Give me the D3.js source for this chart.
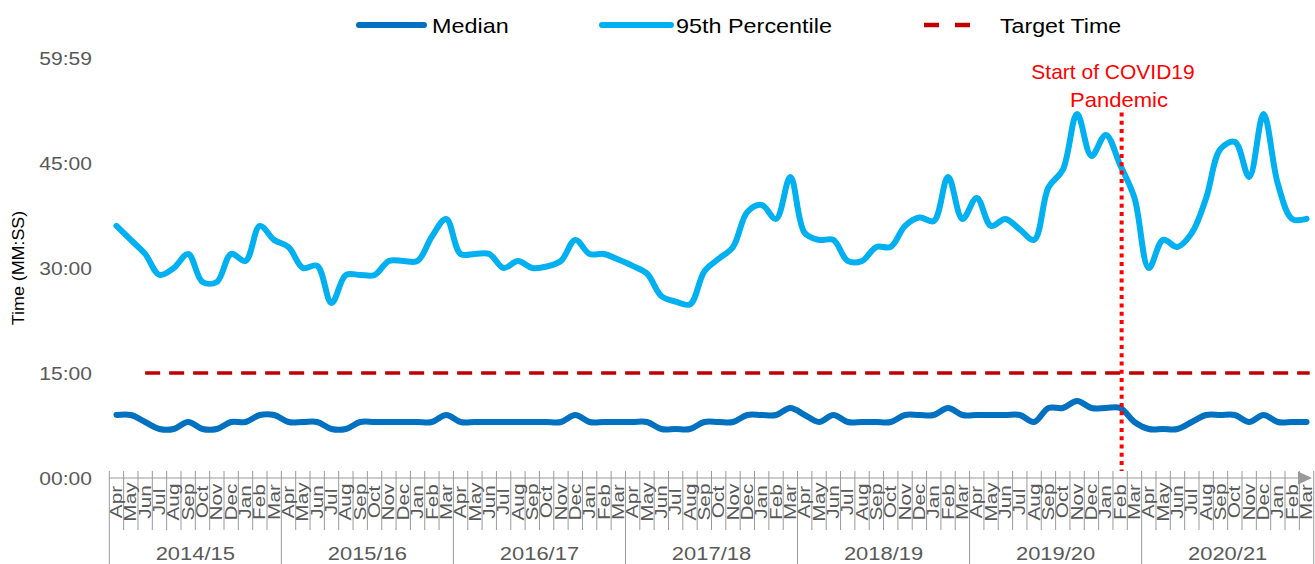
<!DOCTYPE html>
<html><head><meta charset="utf-8">
<script src="https://cdn.jsdelivr.net/npm/d3@7"></script>
<style>
html,body{margin:0;padding:0;background:#fff;}
svg{display:block;font-family:"Liberation Sans",Arial,sans-serif;}
</style></head>
<body><svg id="c" width="1315" height="564"></svg>
<script>
// ---- data ----
const months = ["Apr","May","Jun","Jul","Aug","Sep","Oct","Nov","Dec","Jan","Feb","Mar"];
const years = ["2014/15","2015/16","2016/17","2017/18","2018/19","2019/20","2020/21"];
// values in minutes
const median = [
  9,9,8,7,7,8,7,7,8,8,9,9,
  8,8,8,7,7,8,8,8,8,8,8,9,
  8,8,8,8,8,8,8,8,9,8,8,8,
  8,8,7,7,7,8,8,8,9,9,9,10,
  9,8,9,8,8,8,8,9,9,9,10,9,
  9,9,9,9,8,10,10,11,10,10,10,8,
  7,7,7,8,9,9,9,8,9,8,8,8
];
const p95 = [
  36,34,32,29,30,32,28,28,32,31,36,34,
  33,30,30.3,25,29,29,29,31,31,31,34.5,37,
  32,32,32,30,31,30,30.2,31,34,32,32,31.2,
  30.3,29.2,26,25.2,24.8,29.5,31.3,33,38,39,37,43,
  35,34,34,31,31,33,33,36,37.2,36.7,43,37,
  40,36,37,35.5,34,41.5,44,52,46,49,44.7,40,
  30,34,33,35,40,47,48,43,52,42,37,37
];
const targetMinutes = 15;
const yTicks = [0, 900, 1800, 2700, 3599]; // seconds
const covidMonth = "2019/20 Feb";
const covidLabel = ["Start of COVID19", "Pandemic"];
const seriesNames = ["Median", "95th Percentile", "Target Time"];

const categories = years.flatMap(y => months.map(m => y + " " + m));

// ---- chart ----
const svg = d3.select("#c");
const x = d3.scaleBand().domain(categories).range([109.3, 1313.7]);
const bw = x.bandwidth();
const cx = c => x(c) + bw / 2;
const y = d3.scaleLinear().domain([0, 3599]).range([478, 58]);

const txtCol = "#595959", axCol = "#9a9a9a";
const fmt = s => String(Math.floor(s / 60)).padStart(2, "0") + ":" + String(s % 60).padStart(2, "0");

function stext(g, str, tx, ty, size, sx, anchor, rot, color) {
  return g.append("text")
    .attr("transform", `translate(${tx},${ty})` + (rot ? ` rotate(${rot})` : "") + ` scale(${sx},1)`)
    .attr("text-anchor", anchor).attr("dominant-baseline", "central")
    .attr("font-size", size).attr("fill", color || txtCol).text(str);
}

// y axis labels
yTicks.forEach(t => stext(svg, fmt(t), 92, y(t) + 1, 18, 1.17, "end", 0));
stext(svg, "Time (MM:SS)", 18, 268, 17, 1.05, "middle", -90, "#000");

// x axis line + arrow
svg.append("line").attr("x1", 109.3).attr("x2", 1299).attr("y1", y(0)).attr("y2", y(0))
  .attr("stroke", axCol).attr("stroke-width", 1);
svg.append("path").attr("d", `M1298,${y(0) - 6.5}L1312,${y(0)}L1298,${y(0) + 6.5}Z`).attr("fill", axCol);

// ticks
d3.range(categories.length + 1).forEach(i => {
  const xx = i < categories.length ? x(categories[i]) : x.range()[1];
  const yr = i % 12 === 0;
  svg.append("line").attr("x1", xx).attr("x2", xx).attr("y1", 471).attr("y2", yr ? 564 : 530)
    .attr("stroke", axCol).attr("stroke-width", 1);
});
// month labels
categories.forEach((c, i) => stext(svg, months[i % 12], cx(c), 502, 16, 1.3, "middle", -90));
// year labels
years.forEach((yr, k) => {
  const a = x(categories[k * 12]), b = x(categories[k * 12 + 11]) + bw;
  stext(svg, yr, (a + b) / 2, 554, 18, 1.22, "middle", 0);
});

// target line
svg.append("line")
  .attr("x1", cx(categories[2])).attr("x2", x.range()[1] - 4)
  .attr("y1", y(targetMinutes * 60)).attr("y2", y(targetMinutes * 60))
  .attr("stroke", "#C00000").attr("stroke-width", 3.5).attr("stroke-dasharray", "15,9");

const line = d3.line().x((d, i) => cx(categories[i])).y(d => y(d * 60))
  .curve(d3.curveCatmullRom.alpha(0.5));
svg.append("path").attr("d", line(p95)).attr("fill", "none").attr("stroke", "#00B0F0")
  .attr("stroke-width", 6).attr("stroke-linecap", "round").attr("stroke-linejoin", "round");
svg.append("path").attr("d", line(median)).attr("fill", "none").attr("stroke", "#0070C0")
  .attr("stroke-width", 6).attr("stroke-linecap", "round").attr("stroke-linejoin", "round");

// covid marker
const covX = cx(covidMonth) + 1.5;
svg.append("line").attr("x1", covX).attr("x2", covX).attr("y1", y(52.2 * 60)).attr("y2", y(1 * 60))
  .attr("stroke", "#FF0000").attr("stroke-width", 4).attr("stroke-dasharray", "4,4.3");
stext(svg, covidLabel[0], 1113, 72, 20, 1.05, "middle", 0, "#FF0000");
stext(svg, covidLabel[1], 1119, 100, 20, 1.1, "middle", 0, "#FF0000");

// legend
const lg = svg.append("g");
lg.append("line").attr("x1", 359).attr("x2", 424).attr("y1", 25).attr("y2", 25)
  .attr("stroke", "#0070C0").attr("stroke-width", 6).attr("stroke-linecap", "round");
stext(lg, seriesNames[0], 432, 26, 20, 1.17, "start", 0, "#000");
lg.append("line").attr("x1", 602).attr("x2", 671).attr("y1", 25).attr("y2", 25)
  .attr("stroke", "#00B0F0").attr("stroke-width", 6).attr("stroke-linecap", "round");
stext(lg, seriesNames[1], 676, 26, 20, 1.17, "start", 0, "#000");
lg.append("line").attr("x1", 924).attr("x2", 973).attr("y1", 25).attr("y2", 25)
  .attr("stroke", "#C00000").attr("stroke-width", 4.5).attr("stroke-dasharray", "15,16");
stext(lg, seriesNames[2], 1000, 26, 20, 1.16, "start", 0, "#000");
</script></body></html>
